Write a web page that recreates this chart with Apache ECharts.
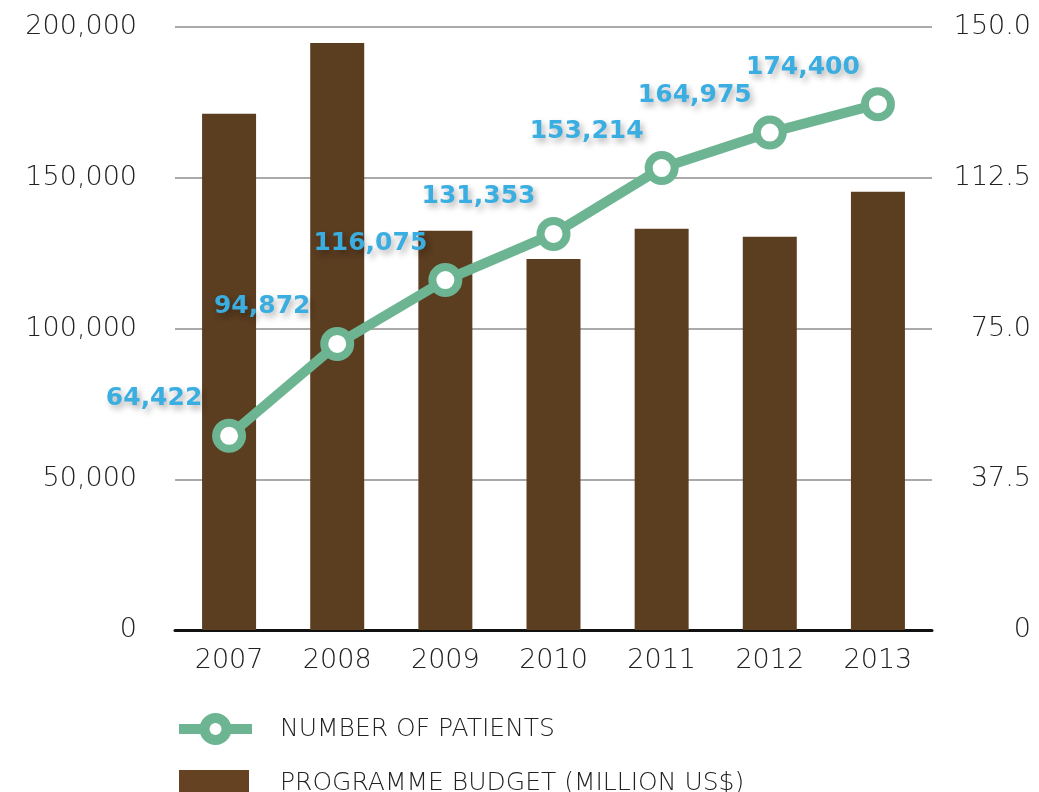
<!DOCTYPE html>
<html>
<head>
<meta charset="utf-8">
<script src="https://cdn.jsdelivr.net/npm/echarts@6/dist/echarts.min.js"></script>
<style>
  html, body { margin: 0; padding: 0; background: #fff; }
  #container { width: 1039px; height: 792px; }
</style>
</head>
<body>
<div id="container"></div>
<script>
	// data
	var years = ['2007', '2008', '2009', '2010', '2011', '2012', '2013'];
	var patients = [64422, 94872, 116075, 131353, 153214, 164975, 174400];
	var budget = [128.4, 146.0, 99.3, 92.3, 99.8, 97.8, 109.0];
	var patientName = 'NUMBER OF PATIENTS';
	var budgetName = 'PROGRAMME BUDGET (MILLION US$)';

	var font = '"DejaVu Sans", sans-serif';
	var green = '#6db592';
	var brown = '#5b3d20';

	function commas(v){
		return String(v).replace(/\B(?=(\d{3})+(?!\d))/g, ',');
	}

	var myChart = echarts.init(document.getElementById('container'));
	var option = {
		animation: false,
		textStyle: { fontFamily: font },
		grid: { left: 175, right: 107, top: 27, bottom: 162, outerBoundsMode: 'none', containLabel: false },
		legend: [{
			left: 174, top: 713, orient: 'vertical', padding: 0,
			itemWidth: 73, itemHeight: 27.5,
			data: [patientName],
			lineStyle: { width: 10 },
			itemStyle: { borderWidth: 10 },
			textStyle: { fontSize: 25, fontWeight: 200, color: '#222', fontFamily: font, padding: [0, 0, 0, 23] }
		}, {
			left: 179, top: 770, orient: 'vertical', padding: 0,
			itemWidth: 70, itemHeight: 26,
			data: [{ name: budgetName, icon: 'rect' }],
			itemStyle: { color: '#644222' },
			textStyle: { fontSize: 25, fontWeight: 200, color: '#222', fontFamily: font, padding: [0, 0, 0, 26] }
		}],
		xAxis: {
			type: 'category',
			data: years,
			axisLine: { lineStyle: { color: '#111', width: 3 } },
			axisTick: { show: false },
			axisLabel: { color: '#222', fontSize: 27, fontWeight: 200, margin: 17, fontFamily: font }
		},
		yAxis: [{
			type: 'value', min: 0, max: 200000, interval: 50000,
			axisLine: { show: false }, axisTick: { show: false },
			splitLine: { lineStyle: { color: '#aaa', width: 2 } },
			axisLabel: { color: '#222', fontSize: 27, fontWeight: 200, margin: 38, fontFamily: font,
				formatter: function(v){ return commas(v); } }
		}, {
			type: 'value', min: 0, max: 150, interval: 37.5,
			axisLine: { show: false }, axisTick: { show: false },
			splitLine: { show: false },
			axisLabel: { color: '#222', fontSize: 27, fontWeight: 200, margin: 99, align: 'right', fontFamily: font,
				formatter: function(v){ return v === 0 ? '0' : v.toFixed(1); } }
		}],
		series: [{
			name: budgetName,
			type: 'bar',
			yAxisIndex: 1,
			data: budget,
			barWidth: 54,
			itemStyle: { color: brown }
		}, {
			name: patientName,
			type: 'line',
			yAxisIndex: 0,
			data: patients,
			symbol: 'circle',
			symbolSize: 26,
			lineStyle: { color: green, width: 10 },
			itemStyle: { color: '#fff', borderColor: green, borderWidth: 8 },
			label: {
				show: true,
				position: 'inside',
				offset: [-75, -37],
				color: '#3aaee0',
				fontSize: 25,
				fontWeight: 'bold',
				fontFamily: font,
				textShadowColor: 'rgba(0,0,0,0.3)',
				textShadowBlur: 6,
				textShadowOffsetX: 3,
				textShadowOffsetY: 4,
				formatter: function(p){ return commas(p.value); }
			}
		}]
	};
	myChart.setOption(option);
</script>
</body>
</html>
